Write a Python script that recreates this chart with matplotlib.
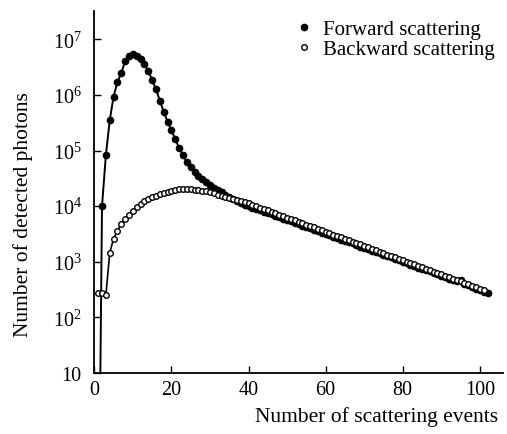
import numpy as np
import matplotlib
matplotlib.use("Agg")
import matplotlib.pyplot as plt
from matplotlib.ticker import FixedLocator, NullLocator

plt.rcParams['font.family'] = ['Liberation Serif', 'DejaVu Serif']
plt.rcParams['mathtext.fontset'] = 'custom'
plt.rcParams['mathtext.rm'] = 'Liberation Serif'
plt.rcParams['mathtext.it'] = 'Liberation Serif:italic'

# photons per number of scattering events
forward = [1e-3, 1.0e4, 8.3e4, 3.5e5, 9.3e5, 1.7e6, 2.5e6, 4.0e6, 5.0e6, 5.5e6,
           5.1e6, 4.5e6, 3.6e6, 2.7e6, 1.86e6, 1.26e6, 7.9e5, 5.0e5, 3.3e5, 2.3e5,
           1.6e5, 1.12e5, 8.3e4, 6.2e4, 5.0e4, 4.2e4, 3.55e4, 3.1e4, 2.7e4, 2.4e4,
           2.14e4, 1.95e4, 1.78e4, 1.62e4, 1.48e4, 1.35e4, 1.26e4, 1.15e4, 1.07e4, 1.0e4,
           9400, 8900, 8500, 7900, 7500, 7150, 6700, 6300, 6000, 5600,
           5350, 5000, 4800, 4450, 4250, 4000, 3800, 3550, 3350, 3150,
           3000, 2800, 2700, 2500, 2380, 2240, 2150, 2000, 1880, 1790,
           1700, 1580, 1500, 1420, 1330, 1260, 1200, 1120, 1060, 1000,
           950, 890, 850, 790, 750, 715, 675, 630, 600, 565,
           535, 500, 480, 445, 470, 400, 380, 355, 330, 315,
           290, 280]

backward = [280, 270, 250, 1450, 2600, 3600, 4800, 5900, 6900, 8300,
            9500, 11000, 12400, 13400, 14500, 15500, 16500, 17400, 18200, 19000,
            19500, 20000, 20300, 20000, 20000, 19700, 19500, 19000, 18600, 17800,
            17000, 16200, 15500, 14800, 14100, 13500, 12900, 12300, 11700, 11200,
            10600, 10000, 9400, 8900, 8400, 7900, 7450, 7000, 6600, 6250,
            5900, 5550, 5250, 4950, 4650, 4400, 4150, 3900, 3700, 3450,
            3280, 3080, 2900, 2750, 2600, 2430, 2300, 2170, 2050, 1930,
            1820, 1710, 1620, 1520, 1440, 1350, 1280, 1200, 1140, 1070,
            1010, 955, 900, 845, 800, 750, 710, 670, 630, 595,
            560, 530, 500, 470, 445, 420, 395, 372, 350, 330,
            310]

x_fwd = np.arange(1, len(forward) + 1)
x_bwd = np.arange(1, len(backward) + 1)

y_ticks = [10, 1e2, 1e3, 1e4, 1e5, 1e6, 1e7]
y_ticklabels = ['10', '$10^2$', '$10^3$', '$10^4$', '$10^5$', '$10^6$', '$10^7$']
x_ticks = [0, 20, 40, 60, 80, 100]

fig = plt.figure(figsize=(5.07, 4.35), dpi=100)
ax = fig.add_axes([0.186, 0.140, 0.806, 0.832])

ax.plot(x_fwd, forward, '-o', color='black', lw=1.4, ms=4.5,
        mfc='black', mec='black', label='Forward scattering')
ax.plot(x_bwd, backward, '-o', color='black', lw=1.2, ms=4.0,
        mfc='white', mec='black', mew=1.0, label='Backward scattering')

ax.set_yscale('log')
ax.set_xlim(0, 106)
ax.set_ylim(10, 3.2e7)
ax.yaxis.set_major_locator(FixedLocator(y_ticks))
ax.yaxis.set_minor_locator(NullLocator())
ax.set_yticklabels(y_ticklabels)
ax.set_xticks(x_ticks)

for s in ['top', 'right']:
    ax.spines[s].set_visible(False)
for s in ['left', 'bottom']:
    ax.spines[s].set_linewidth(1.3)
ax.tick_params(direction='in', length=5, width=1.0, labelsize=14.5)
ax.tick_params(axis='y', pad=9)
ax.tick_params(axis='x', pad=5)

ax.set_xlabel('Number of scattering events', fontsize=15.5, ha='right', va='center')
ax.xaxis.set_label_coords(0.988, -0.119)
ax.set_ylabel('Number of detected photons', fontsize=15.5, va='center')
ax.yaxis.set_label_coords(-0.174, 0.442)

leg = ax.legend(loc='upper right', bbox_to_anchor=(1.0, 1.0), frameon=False,
                fontsize=15, handlelength=0.6, handletextpad=0.6,
                labelspacing=0.02, borderaxespad=0.0)
for h in leg.legend_handles:
    h.set_linestyle('none')

fig.savefig('out.png', dpi=100)
